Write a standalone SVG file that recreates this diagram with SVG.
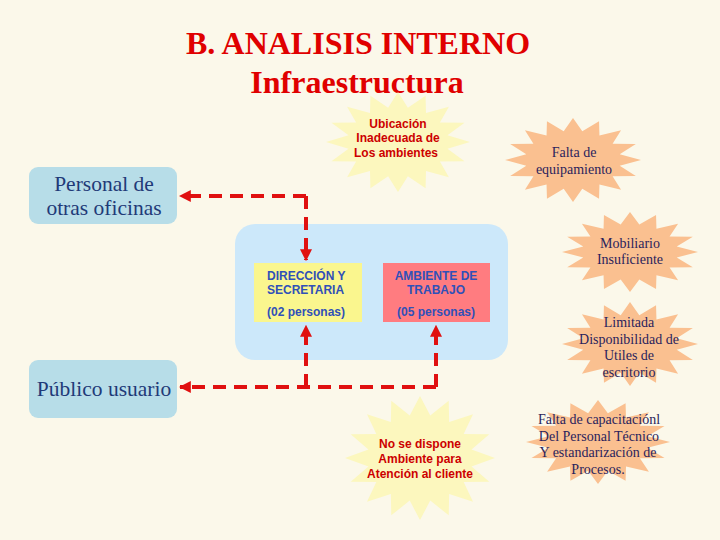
<svg xmlns="http://www.w3.org/2000/svg" xmlns:xlink="http://www.w3.org/1999/xlink" width="720" height="540" viewBox="0 0 720 540">
<defs>
<style>
.title{font-family:"Liberation Serif","Times New Roman",serif;font-weight:bold;fill:#E00000;text-anchor:middle}
.box{font-family:"Liberation Serif","DejaVu Serif",serif;fill:#1F3A78;text-anchor:middle}
.lbl{font-family:"Liberation Sans",Arial,sans-serif;font-weight:bold;fill:#3050B8;font-size:12px;text-anchor:middle}
.red{font-family:"Liberation Sans",Arial,sans-serif;font-weight:bold;fill:#CC0000;font-size:12px;text-anchor:middle}
.st{font-family:"Liberation Serif","Times New Roman",serif;fill:#2A1E5C;font-size:14px;text-anchor:middle}
.orange{fill:#FAC090}
.pale{fill:#FCF7BE}
.conn{fill:none;stroke:#E01010;stroke-width:4;stroke-dasharray:13 8}
</style>
<polygon id="star" points="100,0 68.7,13.7 92.4,38.3 58.2,38.9 70.7,70.7 38.9,58.2 38.3,92.4 13.7,68.7 0,100 -13.7,68.7 -38.3,92.4 -38.9,58.2 -70.7,70.7 -58.2,38.9 -92.4,38.3 -68.7,13.7 -100,0 -68.7,-13.7 -92.4,-38.3 -58.2,-38.9 -70.7,-70.7 -38.9,-58.2 -38.3,-92.4 -13.7,-68.7 0,-100 13.7,-68.7 38.3,-92.4 38.9,-58.2 70.7,-70.7 58.2,-38.9 92.4,-38.3 68.7,-13.7"/>
<marker id="arr" viewBox="0 0 10 10" refX="9" refY="5" markerWidth="3" markerHeight="3" orient="auto-start-reverse" markerUnits="strokeWidth">
<path d="M0,0 L10,5 L0,10 z" fill="#E01010"/>
</marker>
</defs>
<rect width="720" height="540" fill="#FBF8EA"/>

<g id="title">
<text class="title" x="358" y="54" font-size="32">B. ANALISIS INTERNO</text>
<text class="title" x="357" y="93" font-size="32">Infraestructura</text>
</g>

<g id="ubicacion">
<use xlink:href="#star" class="pale" transform="translate(398,142) scale(0.72,0.5)"/>
<text class="red" x="398" y="128">Ubicación</text>
<text class="red" x="398" y="142">Inadecuada de</text>
<text class="red" x="396" y="157">Los ambientes</text>
</g>

<g id="falta-equipamiento">
<use xlink:href="#star" class="orange" transform="translate(573,160) scale(0.68,0.42)"/>
<text class="st" x="574" y="157">Falta de</text>
<text class="st" x="574" y="174">equipamiento</text>
</g>

<g id="personal">
<rect x="29" y="167" width="148" height="57" rx="9" fill="#B7DDE8"/>
<text class="box" x="104" y="191" font-size="21.5">Personal de</text>
<text class="box" x="104" y="215" font-size="21.5">otras oficinas</text>
</g>

<g id="area">
<rect x="235" y="224" width="273" height="136" rx="20" fill="#CCE8FA"/>
</g>

<g id="direccion">
<rect x="254" y="263" width="108" height="59" fill="#FAF68E"/>
<text class="lbl" x="267" y="280" style="text-anchor:start">DIRECCIÓN Y</text>
<text class="lbl" x="267" y="294" style="text-anchor:start">SECRETARIA</text>
<text class="lbl" x="267" y="316" style="text-anchor:start">(02 personas)</text>
</g>

<g id="ambiente">
<rect x="383" y="263" width="107" height="59" fill="#FF7C80"/>
<text class="lbl" x="436" y="280">AMBIENTE DE</text>
<text class="lbl" x="436" y="294">TRABAJO</text>
<text class="lbl" x="436" y="316">(05 personas)</text>
</g>

<g id="mobiliario">
<use xlink:href="#star" class="orange" transform="translate(630,252) scale(0.68,0.4)"/>
<text class="st" x="630" y="248">Mobiliario</text>
<text class="st" x="630" y="264">Insuficiente</text>
</g>

<g id="limitada">
<use xlink:href="#star" class="orange" transform="translate(630,344) scale(0.68,0.42)"/>
<text class="st" x="629" y="327">Limitada</text>
<text class="st" x="629" y="344">Disponibilidad de</text>
<text class="st" x="629" y="360">Utiles de</text>
<text class="st" x="629" y="377">escritorio</text>
</g>

<g id="publico">
<rect x="29" y="360" width="148" height="58" rx="9" fill="#B7DDE8"/>
<text class="box" x="104" y="396" font-size="21.5">Público usuario</text>
</g>

<g id="no-dispone">
<use xlink:href="#star" class="pale" transform="translate(420,458) scale(0.75,0.62)"/>
<text class="red" x="420" y="448">No se dispone</text>
<text class="red" x="420" y="463">Ambiente para</text>
<text class="red" x="420" y="478">Atención al cliente</text>
</g>

<g id="capacitacion">
<use xlink:href="#star" class="orange" transform="translate(598,442) scale(0.72,0.42)"/>
<text class="st" x="599" y="424">Falta de capacitaciónl</text>
<text class="st" x="599" y="441">Del Personal  Técnico</text>
<text class="st" x="598" y="457">Y  estandarización de</text>
<text class="st" x="598" y="474">Procesos.</text>
</g>

<g id="connectors">
<path class="conn" d="M306,196 L180,196" marker-end="url(#arr)"/>
<path class="conn" d="M306,196 L306,260" marker-end="url(#arr)"/>
<path class="conn" d="M306,387 L306,326" marker-end="url(#arr)"/>
<path class="conn" d="M436,387 L436,326" marker-end="url(#arr)"/>
<path class="conn" d="M436,387 L180,387" marker-end="url(#arr)"/>
</g>
</svg>
